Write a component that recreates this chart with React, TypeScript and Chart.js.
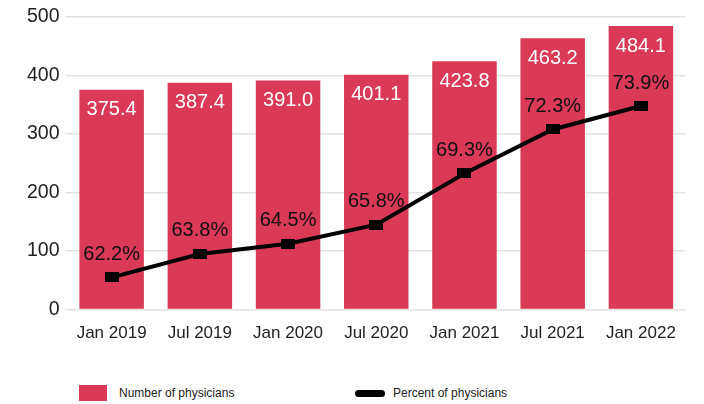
import React, { useEffect, useRef } from "react";
import { Chart, registerables } from "chart.js";

Chart.register(...registerables);

const categories = ["Jan 2019", "Jul 2019", "Jan 2020", "Jul 2020", "Jan 2021", "Jul 2021", "Jan 2022"];
const physicianCounts = [375.4, 387.4, 391.0, 401.1, 423.8, 463.2, 484.1];
const physicianPercents = [62.2, 63.8, 64.5, 65.8, 69.3, 72.3, 73.9];
const yTicks = [0, 100, 200, 300, 400, 500];

const BAR_COLOR = "#DA3A56";
const FONT = "'Liberation Sans', Arial, Helvetica, sans-serif";

const labelPlugin = {
  id: "valueLabels",
  afterDatasetsDraw(chart: any) {
    const ctx = chart.ctx;
    ctx.save();
    ctx.textAlign = "center";
    ctx.textBaseline = "middle";
    ctx.font = `20px ${FONT}`;
    const barMeta = chart.getDatasetMeta(0);
    barMeta.data.forEach((el: any, i: number) => {
      ctx.fillStyle = "#ffffff";
      ctx.fillText(physicianCounts[i].toFixed(1), el.x, el.y + 20);
    });
    const lineMeta = chart.getDatasetMeta(1);
    lineMeta.data.forEach((el: any, i: number) => {
      ctx.fillStyle = "#111111";
      ctx.fillText(physicianPercents[i].toFixed(1) + "%", el.x, el.y - 23);
    });
    ctx.restore();
  },
};

export default function App() {
  const ref = useRef<HTMLCanvasElement | null>(null);
  useEffect(() => {
    if (!ref.current) return;
    const marker = document.createElement("canvas");
    marker.width = 14;
    marker.height = 10;
    const mctx = marker.getContext("2d");
    if (mctx) {
      mctx.fillStyle = "#000";
      mctx.fillRect(0, 0, 14, 10);
    }
    const chart = new Chart(ref.current, {
      type: "bar",
      data: {
        labels: categories,
        datasets: [
          {
            type: "bar",
            label: "Number of physicians",
            data: physicianCounts,
            backgroundColor: BAR_COLOR,
            categoryPercentage: 1,
            barPercentage: 0.731,
            yAxisID: "y",
            order: 2,
          },
          {
            type: "line",
            label: "Percent of physicians",
            data: physicianPercents,
            borderColor: "#000",
            backgroundColor: "#000",
            borderWidth: 4,
            pointStyle: marker as any,
            pointRadius: 7,
            yAxisID: "y2",
            order: 1,
          },
        ],
      },
      options: {
        animation: false,
        responsive: false,
        devicePixelRatio: 1,
        layout: { padding: { left: 13, right: 6, top: 0, bottom: 0 } },
        plugins: {
          legend: { display: false },
          tooltip: { enabled: false },
        },
        scales: {
          x: {
            grid: { display: false },
            border: { display: false },
            ticks: { color: "#222", font: { family: FONT, size: 17 }, padding: 6 },
          },
          y: {
            min: 0,
            max: 500,
            afterBuildTicks: (axis: any) => {
              axis.ticks = yTicks.map((v) => ({ value: v }));
            },
            grid: { color: "#e2e2e2", drawTicks: true, tickLength: 2, lineWidth: 1.5 },
            border: { display: false },
            ticks: { color: "#222", font: { family: FONT, size: 19.5 }, padding: 6 },
          },
          y2: {
            display: false,
            min: 60,
            max: 80,
          },
        },
      },
      plugins: [labelPlugin],
    });
    return () => chart.destroy();
  }, []);

  return (
    <div style={{ position: "relative", width: 688, height: 396, fontFamily: FONT }}>
      <canvas
        ref={ref}
        width={688}
        height={351}
        style={{ position: "absolute", left: 0, top: -9, width: 688, height: 351 }}
      />
      <div style={{ position: "absolute", left: 71, top: 377, height: 16, display: "flex", alignItems: "center", fontSize: 12, color: "#222" }}>
        <span style={{ display: "inline-block", width: 28, height: 16, background: BAR_COLOR, marginRight: 12 }} />
        <span>Number of physicians</span>
      </div>
      <div style={{ position: "absolute", left: 347, top: 377, display: "flex", alignItems: "center", height: 16, fontSize: 12, color: "#222" }}>
        <span style={{ display: "inline-block", width: 30, height: 7, borderRadius: 4, background: "#000", marginRight: 8 }} />
        <span>Percent of physicians</span>
      </div>
    </div>
  );
}
